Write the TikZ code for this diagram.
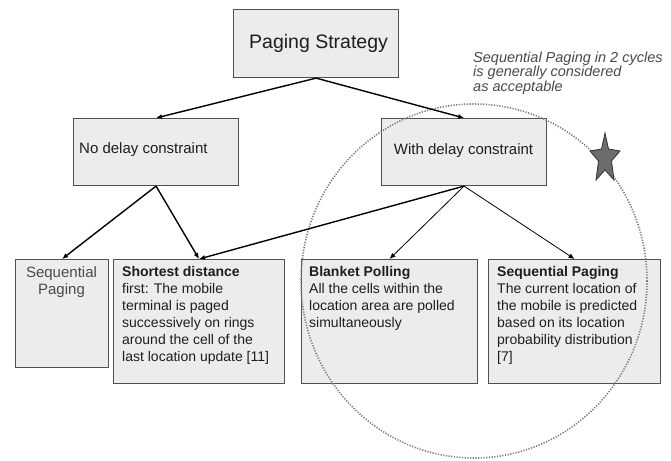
\documentclass[tikz,border=0pt]{standalone}
\usepackage{fontspec}
\setmainfont{Liberation Sans}
\usetikzlibrary{arrows.meta,calc}
\definecolor{boxfill}{HTML}{ECECEC}
\definecolor{boxline}{HTML}{505050}
\definecolor{txt}{HTML}{1E1E1E}
\definecolor{graytxt}{HTML}{4A4A4A}
\definecolor{circ}{HTML}{7A7A7A}
\begin{document}
\begin{tikzpicture}[x=1pt,y=-1pt,
  box/.style={draw=boxline, fill=boxfill, line width=1.1pt, inner sep=0pt, anchor=north west},
  body/.style={anchor=north west, inner sep=0pt, align=left, text=txt, font=\fontsize{14}{17}\selectfont},
  arr/.style={-{Latex[length=6pt,width=5pt]}, line width=1.4pt, black},
  thinarr/.style={-{Latex[length=6pt,width=5pt]}, line width=0.8pt, black}]
\useasboundingbox (0,0) rectangle (671,460);
\fill[white] (0,0) rectangle (671,460);

% boxes
\node[box, minimum width=165pt, minimum height=68pt] (ps) at (233,9) {};
\node[box, minimum width=165pt, minimum height=67pt] (nd) at (73,118) {};
\node[box, minimum width=165pt, minimum height=67pt] (wd) at (381,118) {};
\node[box, minimum width=93pt, minimum height=108pt] (sq) at (15,259) {};
\node[box, minimum width=171pt, minimum height=124pt] (sd) at (113,259) {};
\node[box, minimum width=176pt, minimum height=124pt] (bp) at (301,259) {};
\node[box, minimum width=172pt, minimum height=124pt] (sp) at (488,259) {};

% dotted circle, drawn over the boxes
\draw[circ, line width=1.6pt, dash pattern=on 1.2pt off 1.5pt] (474,281) ellipse (173pt and 177pt);

% texts
\node[anchor=west, inner sep=0pt, text=txt, font=\fontsize{19.5}{22}\selectfont] (pst) at (249,43) {Paging Strategy};
\node[anchor=west, inner sep=0pt, text=txt, font=\fontsize{15}{18}\selectfont] (ndt) at (79,150) {No delay constraint};
\node[anchor=center, inner sep=0pt, text=txt, font=\fontsize{15}{18}\selectfont] (wdt) at (463.5,151) {With delay constraint};
\node[anchor=north, inner sep=0pt, align=center, text=graytxt, font=\fontsize{15}{17}\selectfont] (sqt) at (61.5,266) {Sequential\\Paging};
\node[body] (sdt) at (122,266.5) {\textbf{Shortest distance}\\first: The mobile\\terminal is paged\\successively on rings\\around the cell of the\\last location update [11]};
\node[body] (bpt) at (309,266.5) {\textbf{Blanket Polling}\\All the cells within the\\location area are polled\\simultaneously};
\node[body] (spt) at (497,266.5) {\textbf{Sequential Paging}\\The current location of\\the mobile is predicted\\based on its location\\probability distribution\\{}[7]};

% annotation
\node[anchor=north west, inner sep=0pt, align=left, text=graytxt, font=\fontsize{14.5}{14.5}\selectfont\itshape] (note) at (473,51.5) {Sequential Paging in 2 cycles\\is generally considered\\as acceptable};

% star
\filldraw[fill=gray!85!black, draw=black!80, line width=0.8pt]
  (605,133) -- (608.5,149) -- (620,151) -- (611.5,161) -- (614,180) -- (605,170)
  -- (596,180) -- (598.5,161) -- (590,151) -- (601.5,149) -- cycle;

% connectors
\draw[arr] (ps.south) -- (nd.north);
\draw[arr] (ps.south) -- (wd.north);
\draw[arr] (nd.south) -- (sq.north);
\draw[arr] (nd.south) -- (sd.north);
\draw[arr] (wd.south) -- (sd.north);
\draw[thinarr] (wd.south) -- (bp.north);
\draw[thinarr] (wd.south) -- (sp.north);
\end{tikzpicture}
\end{document}
